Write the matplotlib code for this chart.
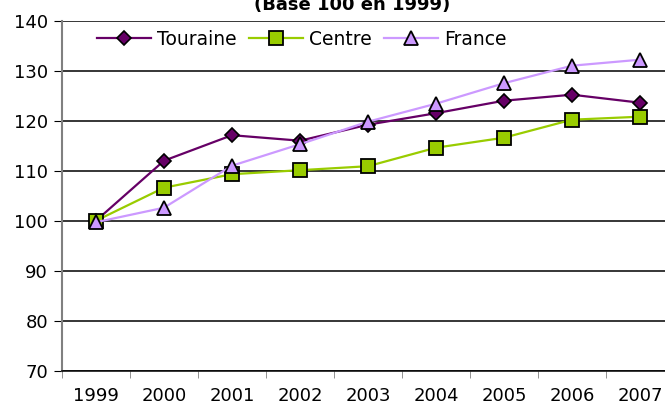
import matplotlib
matplotlib.use('Agg')
import matplotlib.pyplot as plt
import numpy as np

years = ['1999', '2000', '2001', '2002', '2003', '2004', '2005', '2006', '2007']
touraine = [100, 112, 117.1, 116, 119.2, 121.5, 124, 125.2, 123.6]
centre = [100, 106.6, 109.3, 110.1, 110.9, 114.6, 116.6, 120.2, 120.8]
france = [99.7, 102.6, 111, 115.3, 119.8, 123.4, 127.5, 131, 132.2]

W, H = 665, 409
fig = plt.figure(figsize=(W / 100, H / 100), dpi=100)
ax = fig.add_axes([62 / W, (H - 370.7) / H, 612 / W, 350 / H])

x = np.arange(len(years))
ax.plot(x, touraine, color='#660066', lw=1.6, marker='D', ms=7,
        mfc='#660066', mec='black', mew=1.2, label='Touraine', zorder=3)
ax.plot(x, centre, color='#99CC00', lw=1.6, marker='s', ms=9.5,
        mfc='#99CC00', mec='black', mew=1.3, label='Centre', zorder=3)
ax.plot(x, france, color='#CC99FF', lw=1.6, marker='^', ms=9.5,
        mfc='#CC99FF', mec='black', mew=1.3, label='France', zorder=4)

ax.set_xlim(-0.5, len(years) - 0.5)
ax.set_ylim(70, 140)
ax.set_yticks(range(70, 141, 10))
ax.set_xticks(x)
ax.set_xticklabels(years)
ax.set_xticks(np.arange(-0.5, len(years), 1), minor=True)
ax.tick_params(axis='x', which='major', length=0, pad=12, labelsize=13)
ax.tick_params(axis='x', which='minor', length=5, color='#808080', direction='out')
ax.tick_params(axis='y', length=6, color='black', labelsize=13, pad=4)
ax.grid(axis='y', color='black', lw=1.1)
ax.set_axisbelow(True)

for s in ['top', 'right']:
    ax.spines[s].set_visible(False)
ax.spines['left'].set_color('#808080')
ax.spines['left'].set_linewidth(1.5)
ax.spines['bottom'].set_color('black')
ax.spines['bottom'].set_linewidth(1.1)

ax.legend(loc='upper left', bbox_to_anchor=(0.045, 0.995), ncol=3, frameon=False,
          fontsize=13.5, handlelength=2.9, handletextpad=0.3, columnspacing=0.65,
          borderaxespad=0)

fig.text(352 / W, 1 - 10 / H, '(Base 100 en 1999)', ha='center', va='baseline',
         fontsize=13, fontweight='bold')

fig.savefig('out.png', dpi=100)
